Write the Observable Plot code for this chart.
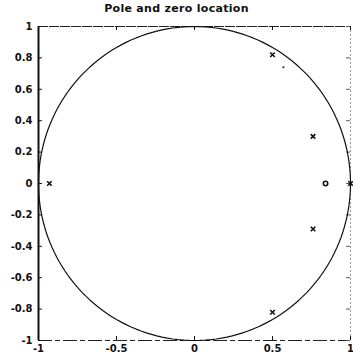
<!DOCTYPE html>
<html><head><meta charset="utf-8">
<script src="https://cdn.jsdelivr.net/npm/d3@7"></script>
<script src="https://cdn.jsdelivr.net/npm/@observablehq/plot@0.6"></script>
<style>
body{margin:0;background:#fff;}
#t{position:absolute;left:0;top:2px;width:353px;text-align:center;font:bold 11px "DejaVu Sans",sans-serif;color:#111;letter-spacing:0.3px}
</style></head><body>
<div id="t">Pole and zero location</div>
<div id="c"></div>
<script>
const xTicks = [-1, -0.5, 0, 0.5, 1];
const xTickLabels = ["-1", "-0.5", "0", "0.5", "1"];
const yTicks = [1, 0.8, 0.6, 0.4, 0.2, 0, -0.2, -0.4, -0.6, -0.8, -1];
const yTickLabels = ["1", "0.8", "0.6", "0.4", "0.2", "0", "-0.2", "-0.4", "-0.6", "-0.8", "-1"];
// poles (x markers)
const poleRe = [0.5, 0.76, 0.76, 0.5, -0.93, 1.0];
const poleIm = [0.82, 0.30, -0.29, -0.82, 0, 0];
// zeros (o markers)
const zeroRe = [0.84];
const zeroIm = [0];
// stray dot
const dotRe = [0.57];
const dotIm = [0.74];

const poles = poleRe.map((x, i) => ({x, y: poleIm[i]}));
const zeros = zeroRe.map((x, i) => ({x, y: zeroIm[i]}));
const dots = dotRe.map((x, i) => ({x, y: dotIm[i]}));
const circle = d3.range(0, 361, 2).map(a => ({x: Math.cos(a * Math.PI / 180), y: Math.sin(a * Math.PI / 180)}));

const fmtX = d => xTickLabels[xTicks.indexOf(d)];
const fmtY = d => yTickLabels[yTicks.indexOf(d)];

const chart = Plot.plot({
  width: 353, height: 358,
  marginLeft: 38, marginRight: 3, marginTop: 26, marginBottom: 18,
  style: {fontFamily: "DejaVu Sans, sans-serif", fontSize: "10px", fontWeight: "bold", color: "#111", background: "#fff"},
  x: {domain: [-1, 1], label: null},
  y: {domain: [-1, 1], label: null},
  marks: [
    Plot.axisX({ticks: xTicks, tickFormat: fmtX, tickSize: 0, tickPadding: 4, label: null}),
    Plot.axisY({ticks: yTicks, tickFormat: fmtY, tickSize: 0, tickPadding: 6, label: null}),
    Plot.ruleX([-1], {stroke: "#111", strokeWidth: 2}),
    Plot.ruleY([1], {stroke: "#222", strokeWidth: 1.2, strokeDasharray: "10,1"}),
    Plot.ruleY([-1], {stroke: "#222", strokeWidth: 1.2, strokeDasharray: "14,3,5,3"}),
    Plot.ruleX([1], {stroke: "#999", strokeWidth: 1, strokeDasharray: "2,2"}),
    Plot.ruleY(yTicks, {x1: -1, x2: -0.975, stroke: "#111"}),
    Plot.ruleY(yTicks, {x1: 0.975, x2: 1, stroke: "#555"}),
    Plot.ruleX(xTicks, {y1: -1, y2: -0.975, stroke: "#111"}),
    Plot.ruleX(xTicks, {y1: 0.975, y2: 1, stroke: "#111"}),
    Plot.line(circle, {x: "x", y: "y", stroke: "#111", strokeWidth: 1.2, curve: "linear"}),
    Plot.dot(poles, {x: "x", y: "y", symbol: "times", r: 2.2, stroke: "#111", strokeWidth: 1.6}),
    Plot.dot(zeros, {x: "x", y: "y", symbol: "circle", r: 2.2, stroke: "#111", strokeWidth: 1.6}),
    Plot.dot(dots, {x: "x", y: "y", r: 1, fill: "#111", stroke: "none"})
  ]
});
document.getElementById("c").appendChild(chart);
</script>
</body></html>
